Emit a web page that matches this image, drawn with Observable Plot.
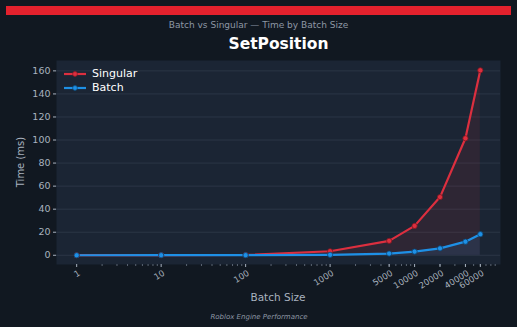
<!DOCTYPE html>
<html><head><meta charset="utf-8">
<script src="https://cdn.jsdelivr.net/npm/d3@7"></script>
<script src="https://cdn.jsdelivr.net/npm/@observablehq/plot@0.6"></script>
<style>
html,body{margin:0;padding:0;background:#111821;}
#wrap{position:relative;width:517px;height:327px;font-family:"DejaVu Sans",sans-serif;overflow:hidden;}
.abs{position:absolute;white-space:nowrap;}
</style></head>
<body><div id="wrap"></div>
<script>
const batchSizes = [1, 10, 100, 1000, 5000, 10000, 20000, 40000, 60000];
const tickLabels = ["1","10","100","1000","5000","10000","20000","40000","60000"];
const singularMs = [0.05, 0.1, 0.3, 3.5, 12.5, 25.5, 50.5, 101.5, 160.5];
const batchMs    = [0.02, 0.05, 0.1, 0.4, 1.5, 3.2, 6.0, 11.8, 18.3];
const yTicks = [0, 20, 40, 60, 80, 100, 120, 140, 160];

const series = [
  {name: "Singular", values: singularMs, color: "#dc2f3f", edge: "#8e1b26"},
  {name: "Batch", values: batchMs, color: "#1e90e6", edge: "#0d4f80"}
];
const rows = series.flatMap(s => batchSizes.map((x, i) => ({x, y: s.values[i], name: s.name})));
const sing = rows.filter(d => d.name === "Singular");
const bat = rows.filter(d => d.name === "Batch");
const xLabels = batchSizes.map((x, i) => ({x, label: tickLabels[i]}));

// minor log tick positions for the axis
const minor = [];
for (let e = 0; e <= 5; e++) for (let m = 2; m <= 9; m++) { const v = m * 10 ** e; if (v < 100000) minor.push(v); }

const chart = Plot.plot({
  width: 517, height: 327,
  marginTop: 60, marginBottom: 63, marginLeft: 56, marginRight: 17,
  style: {background: "transparent", fontFamily: "DejaVu Sans, sans-serif", fontSize: "9px", color: "#a8b2bf"},
  x: {type: "log", domain: [0.577, 104000]},
  y: {domain: [-8, 169]},
  marks: [
    Plot.frame({fill: "#1b2534", stroke: null}),
    Plot.gridY(yTicks, {stroke: "#2b3646", strokeOpacity: 1, strokeWidth: 1}),
    Plot.areaY(sing, {x: "x", y1: 0, y2: "y", fill: "#dc2f3f", fillOpacity: 0.1}),
    Plot.areaY(bat, {x: "x", y1: 0, y2: "y", fill: "#1e90e6", fillOpacity: 0.12}),
    Plot.line(sing, {x: "x", y: "y", stroke: "#dc2f3f", strokeWidth: 2.2}),
    Plot.line(bat, {x: "x", y: "y", stroke: "#1e90e6", strokeWidth: 2.2}),
    Plot.dot(sing, {x: "x", y: "y", r: 2.6, fill: "#dc2f3f", stroke: "#7e1720", strokeWidth: 0.8}),
    Plot.dot(bat, {x: "x", y: "y", r: 2.6, fill: "#1e90e6", stroke: "#0c4470", strokeWidth: 0.8}),
    Plot.axisY(yTicks, {tickSize: 3, tickPadding: 3, stroke: "#a8b2bf", fill: "#a8b2bf", fontSize: 9.5, label: null}),
    Plot.axisX(minor, {tickSize: 2, text: null, stroke: "#5b6573", label: null}),
    Plot.axisX(batchSizes, {tickSize: 3, text: null, stroke: "#a8b2bf", label: null}),
    Plot.text(xLabels, {x: "x", text: "label", frameAnchor: "bottom", dy: 5, dx: 1, rotate: -32, textAnchor: "end", lineAnchor: "top", fill: "#a8b2bf", fontSize: 8.5})
  ]
});
const wrap = document.getElementById("wrap");
wrap.appendChild(chart);

function addText(txt, css) {
  const d = document.createElement("div");
  d.className = "abs";
  d.textContent = txt;
  d.style.cssText += css;
  wrap.appendChild(d);
  return d;
}
const bar = document.createElement("div");
bar.className = "abs";
bar.style.cssText = "left:6px;top:6px;width:505px;height:9px;background:#e3212d;";
wrap.appendChild(bar);
addText("Batch vs Singular \u2014 Time by Batch Size", "left:0;width:517px;text-align:center;top:20px;font-size:9px;color:#8d97a4;");
addText("SetPosition", "left:0;width:557px;text-align:center;top:35px;font-size:15.5px;font-weight:bold;color:#ffffff;");
addText("Time (ms)", "left:20px;top:162px;font-size:10px;color:#a8b2bf;transform:translate(-50%,-50%) rotate(-90deg);");
addText("Batch Size", "left:278px;top:297px;font-size:10.5px;color:#a8b2bf;transform:translate(-50%,-50%);");
addText("Roblox Engine Performance", "left:259px;top:317px;font-size:7px;font-style:italic;color:#8d97a4;transform:translate(-50%,-50%);");

// legend
series.forEach((s, i) => {
  const y = 74 + i * 14;
  const ns = "http://www.w3.org/2000/svg";
  const svg = document.createElementNS(ns, "svg");
  svg.setAttribute("width", 24); svg.setAttribute("height", 8);
  svg.style.cssText = `position:absolute;left:63px;top:${y - 4}px;`;
  const ln = document.createElementNS(ns, "line");
  ln.setAttribute("x1", 1); ln.setAttribute("x2", 23); ln.setAttribute("y1", 4); ln.setAttribute("y2", 4);
  ln.setAttribute("stroke", s.color); ln.setAttribute("stroke-width", 2.2);
  const c = document.createElementNS(ns, "circle");
  c.setAttribute("cx", 12); c.setAttribute("cy", 4); c.setAttribute("r", 2.4);
  c.setAttribute("fill", s.color); c.setAttribute("stroke", s.edge); c.setAttribute("stroke-width", 0.8);
  svg.appendChild(ln); svg.appendChild(c);
  wrap.appendChild(svg);
  addText(s.name, `left:92px;top:${y - 7}px;font-size:11px;color:#ffffff;`);
});
</script></body></html>
